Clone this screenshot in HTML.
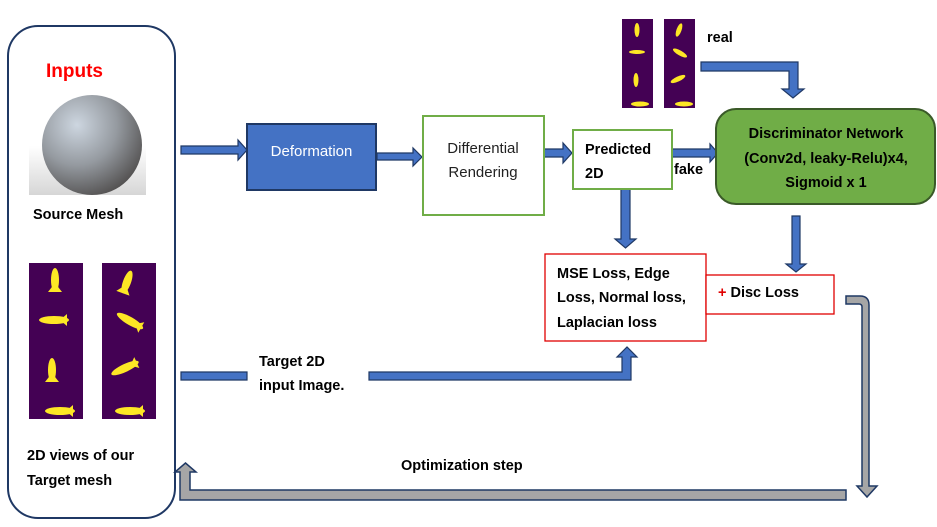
<!DOCTYPE html>
<html><head><meta charset="utf-8"><style>
html,body{margin:0;padding:0;background:#fff}
svg{display:block}
text{font-family:"Liberation Sans",sans-serif}
.b{font-weight:bold;font-size:14.5px;fill:#000}
</style></head><body>
<svg width="937" height="527" viewBox="0 0 937 527" xmlns="http://www.w3.org/2000/svg">
<defs>
<radialGradient id="sph" cx="0.35" cy="0.3" r="0.8">
<stop offset="0" stop-color="#cdd6e0"/><stop offset="0.5" stop-color="#959aa0"/><stop offset="1" stop-color="#4a4746"/>
</radialGradient>
<linearGradient id="bg" x1="0" y1="0" x2="0" y2="1">
<stop offset="0" stop-color="#fff"/><stop offset="0.5" stop-color="#fff"/><stop offset="1" stop-color="#d6d6d6"/>
</linearGradient>
<g id="dol"><ellipse cx="0" cy="0" rx="4" ry="12" fill="#fde725"/><path d="M-7 12 L7 12 L0 3Z" fill="#fde725"/></g>
<g id="dolh"><ellipse cx="0" cy="0" rx="15" ry="4" fill="#fde725"/><path d="M13 -6 L13 6 L6 0Z" fill="#fde725"/></g>
</defs>

<rect x="8" y="26" width="167" height="492" rx="30" fill="#fff" stroke="#1f3864" stroke-width="2"/>
<text x="46" y="77" fill="#ff0000" font-weight="bold" font-size="19">Inputs</text>
<rect x="29" y="97" width="117" height="98" fill="url(#bg)"/>
<circle cx="92" cy="145" r="50" fill="url(#sph)"/>
<text x="33" y="219" class="b">Source Mesh</text>

<rect x="29" y="263" width="54" height="156" fill="#440154"/>
<rect x="102" y="263" width="54" height="156" fill="#440154"/>
<use href="#dol" x="55" y="280"/>
<use href="#dolh" x="54" y="320"/>
<use href="#dol" x="52" y="370"/>
<use href="#dolh" x="60" y="411"/>
<use href="#dol" x="127" y="282" transform="rotate(20 127 282)"/>
<use href="#dolh" x="130" y="321" transform="rotate(30 130 321)"/>
<use href="#dolh" x="125" y="368" transform="rotate(-25 125 368)"/>
<use href="#dolh" x="130" y="411"/>

<text x="27" y="460" class="b">2D views of our</text>
<text x="27" y="485" class="b">Target mesh</text>

<g fill="#4472c4" stroke="#1f3864" stroke-width="1.2">
<path d="M181 146 L238 146 L238 140 L247 150 L238 160 L238 154 L181 154Z"/>
<path d="M377 153 L413 153 L413 148 L422 157 L413 166 L413 160 L377 160Z"/>
<path d="M544 149 L563 149 L563 143 L572 153 L563 163 L563 157 L544 157Z"/>
<path d="M671 149 L710 149 L710 144 L718 153 L710 162 L710 157 L671 157Z"/>
<path d="M621 189 L630 189 L630 239 L636 239 L625.5 248 L615 239 L621 239Z"/>
<path d="M792 216 L800 216 L800 264 L806 264 L796 272 L786 264 L792 264Z"/>
<path d="M701 62 L798 62 L798 89 L804 89 L793 98 L782 89 L789 89 L789 71 L701 71Z"/>
<path d="M181 372 L247 372 L247 380 L181 380Z"/>
<path d="M369 372 L622 372 L622 357 L617 357 L627 347 L637 357 L631 357 L631 380 L369 380Z"/>
</g>

<path d="M846 296 L860 296 Q869 296 869 305 L869 486 L877 486 L867 497 L857 486 L862 486 L862 307 Q862 304 859 304 L846 304Z" fill="#a6a6a6" stroke="#1f3864" stroke-width="1.5"/>
<path d="M846 490 L846 500 L180 500 L180 472 L175 472 L185.5 463 L196 472 L190 472 L190 490Z" fill="#a6a6a6" stroke="#1f3864" stroke-width="1.5"/>

<rect x="247" y="124" width="129" height="66" fill="#4472c4" stroke="#1f3864" stroke-width="2"/>
<text x="311.5" y="156" fill="#fff" font-size="15" text-anchor="middle">Deformation</text>
<rect x="423" y="116" width="121" height="99" fill="#fff" stroke="#70ad47" stroke-width="2"/>
<text x="483" y="153" font-size="15" text-anchor="middle" fill="#222">Differential</text>
<text x="483" y="177" font-size="15" text-anchor="middle" fill="#222">Rendering</text>
<rect x="573" y="130" width="99" height="59" fill="#fff" stroke="#70ad47" stroke-width="2"/>
<text x="585" y="154" class="b">Predicted</text>
<text x="585" y="178" class="b">2D</text>
<text x="674" y="174" class="b">fake</text>

<rect x="716" y="109" width="219" height="95" rx="20" fill="#70ad47" stroke="#3a5a28" stroke-width="2"/>
<text x="826" y="138" class="b" text-anchor="middle">Discriminator Network</text>
<text x="826" y="163" class="b" text-anchor="middle">(Conv2d, leaky-Relu)x4,</text>
<text x="826" y="187" class="b" text-anchor="middle">Sigmoid x 1</text>

<rect x="622" y="19" width="31" height="89" fill="#440154"/>
<rect x="664" y="19" width="31" height="89" fill="#440154"/>
<g fill="#fde725">
<ellipse cx="637" cy="30" rx="2.5" ry="7"/><ellipse cx="637" cy="52" rx="8" ry="2"/><ellipse cx="636" cy="80" rx="2.5" ry="7"/><ellipse cx="640" cy="104" rx="9" ry="2.5"/>
<ellipse cx="679" cy="30" rx="2.5" ry="7" transform="rotate(20 679 30)"/><ellipse cx="680" cy="53" rx="8" ry="2.5" transform="rotate(30 680 53)"/><ellipse cx="678" cy="79" rx="8" ry="2.5" transform="rotate(-25 678 79)"/><ellipse cx="684" cy="104" rx="9" ry="2.5"/>
</g>
<text x="707" y="42" class="b">real</text>

<rect x="545" y="254" width="161" height="87" fill="#fff" stroke="#e00000" stroke-width="1.3"/>
<text x="557" y="278" class="b">MSE Loss, Edge</text>
<text x="557" y="302" class="b">Loss, Normal loss,</text>
<text x="557" y="327" class="b">Laplacian loss</text>
<rect x="706" y="275" width="128" height="39" fill="#fff" stroke="#e00000" stroke-width="1.3"/>
<text x="718" y="297" class="b"><tspan fill="#e00000">+</tspan> Disc Loss</text>

<text x="259" y="366" class="b">Target 2D</text>
<text x="259" y="390" class="b">input Image.</text>
<text x="401" y="470" class="b">Optimization step</text>
</svg>
</body></html>
